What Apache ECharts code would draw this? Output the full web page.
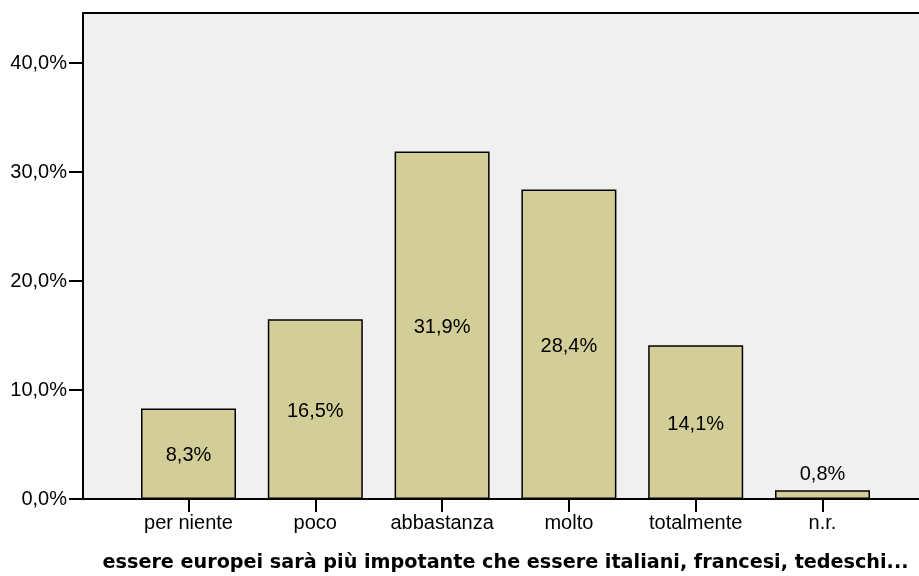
<!DOCTYPE html>
<html><head><meta charset="utf-8">
<script src="https://cdn.jsdelivr.net/npm/echarts@6/dist/echarts.min.js"></script>
<style>html,body{margin:0;padding:0;background:#fff}#c{width:919px;height:576px}</style>
</head><body><div id="c"></div>
<script>
const categories = ['per niente','poco','abbastanza','molto','totalmente','n.r.'];
const values = [8.3, 16.5, 31.9, 28.4, 14.1, 0.8];
const yTicks = [0, 10, 20, 30, 40];
const axisTitle = 'essere europei sarà più impotante che essere italiani, francesi, tedeschi...';
const yMax = 44.6;

const fmt = v => v.toFixed(1).replace('.', ',') + '%';
const font = '"Liberation Sans", Arial, sans-serif';

const chart = echarts.init(document.getElementById('c'));
chart.setOption({
  animation: false,
  grid: [
    {left: 83, right: -3, top: 13, bottom: 77, outerBoundsMode: 'none', containLabel: false, show: true, backgroundColor: '#f0f0f0', borderColor: '#000', borderWidth: 2},
    {left: 125.1, width: 760.8, top: 13, bottom: 77, outerBoundsMode: 'none', containLabel: false}
  ],
  xAxis: [
    {type: 'value', gridIndex: 0, min: 0, max: 1, axisLine: {show: true, onZero: false, lineStyle: {color: '#000', width: 2}},
     axisTick: {show: false}, axisLabel: {show: false}, splitLine: {show: false},
     name: axisTitle, nameLocation: 'middle', nameGap: 55,
     nameTextStyle: {fontFamily: '"DejaVu Sans", sans-serif', fontSize: 19.2, fontWeight: 'bold', color: '#000', padding: [0, 0, 0, 6]}},
    {type: 'category', gridIndex: 1, data: categories, axisLine: {show: false},
     axisTick: {show: true, alignWithLabel: true, length: 13, lineStyle: {color: '#000', width: 2}},
     axisLabel: {interval: 0, fontFamily: font, fontSize: 20, color: '#000', margin: 14}}
  ],
  yAxis: [
    {type: 'value', gridIndex: 0, min: 0, max: yMax, interval: 10,
     axisLine: {show: true, lineStyle: {color: '#000', width: 2}},
     axisTick: {show: true, length: 14, lineStyle: {color: '#000', width: 2}, customValues: yTicks},
     axisLabel: {fontFamily: font, fontSize: 20, color: '#000', margin: 16, formatter: fmt, customValues: yTicks},
     splitLine: {show: false}},
    {type: 'value', gridIndex: 1, min: 0, max: yMax, show: false}
  ],
  series: [{
    type: 'bar', xAxisIndex: 1, yAxisIndex: 1, barWidth: 95,
    itemStyle: {color: '#d3ce97', borderColor: '#000', borderWidth: 1.5},
    label: {show: true, position: 'inside', offset: [0, 2], fontFamily: font, fontSize: 20, color: '#000', formatter: p => fmt(p.value)},
    data: values.map(v => v < 3 ? {value: v, label: {position: 'top', distance: 6, offset: [0, 0]}} : v)
  }]
});
</script></body></html>
